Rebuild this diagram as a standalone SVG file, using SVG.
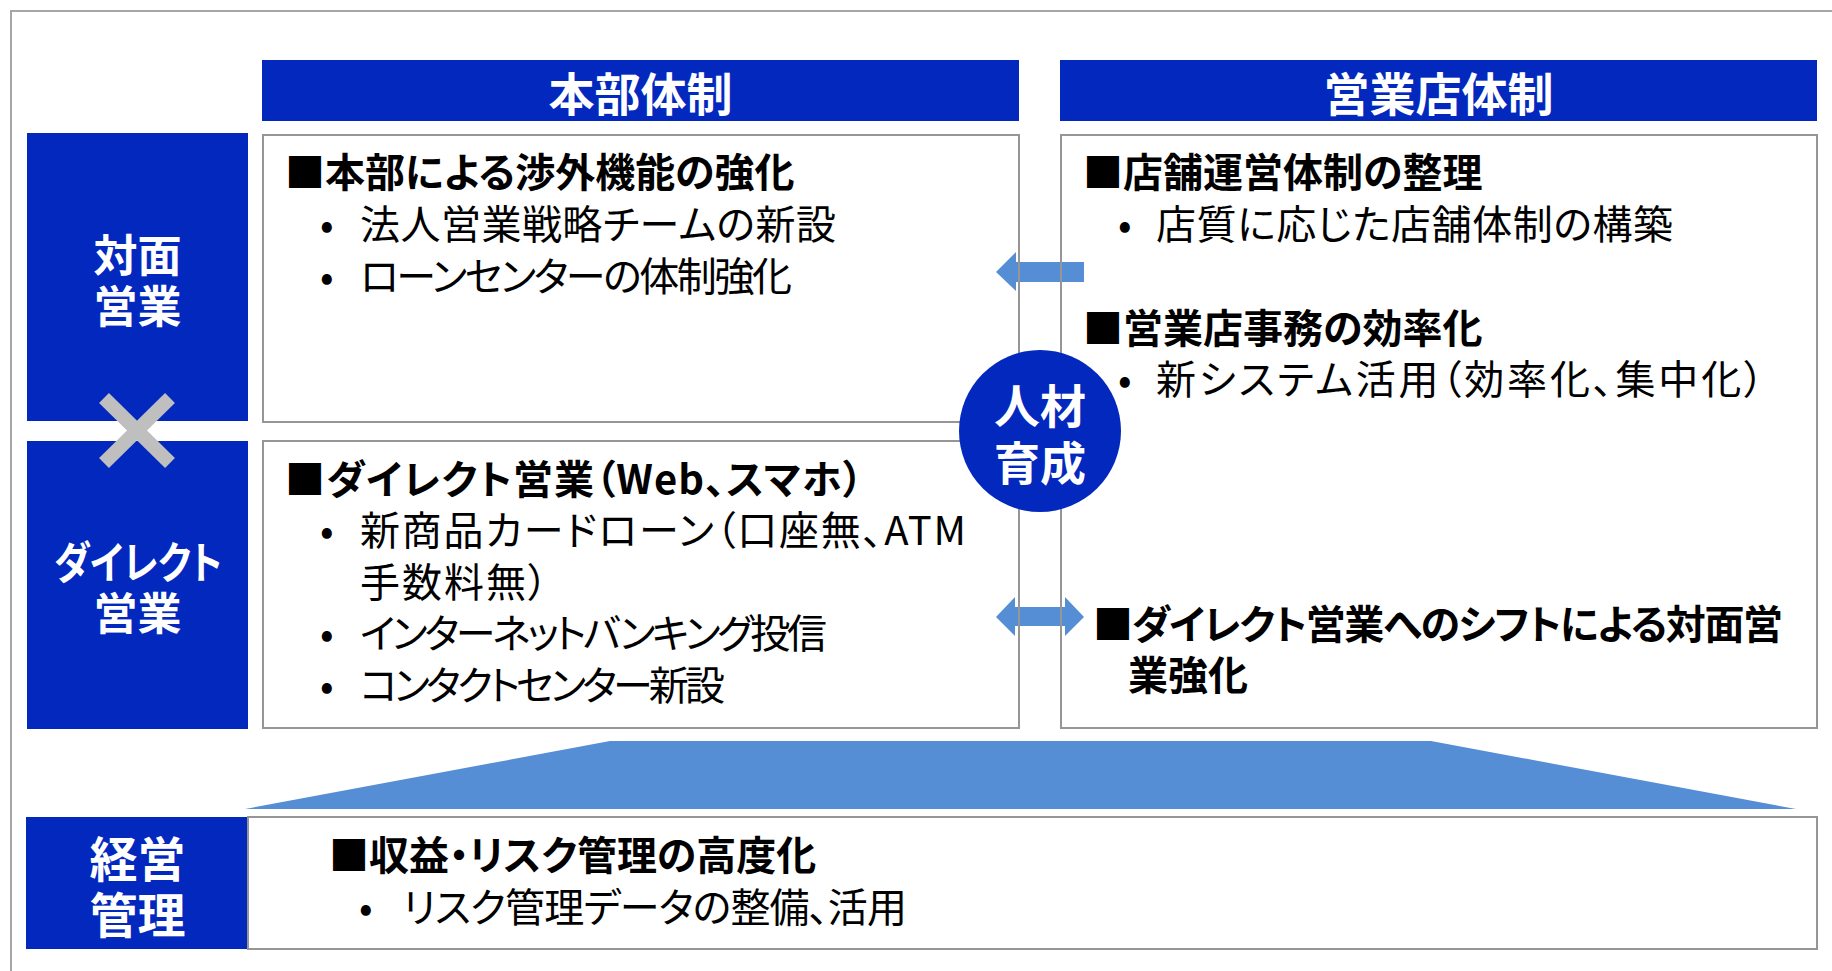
<svg xmlns="http://www.w3.org/2000/svg" width="1832" height="971" viewBox="0 0 1832 971">
<style>
text{font-family:"Noto Sans CJK JP","Noto Sans",sans-serif;dominant-baseline:central;font-feature-settings:"palt"}
.hd{font-size:46px;font-weight:700;fill:#fff;text-anchor:middle}
.lb{font-size:44px;font-weight:700;fill:#fff;text-anchor:middle}
.h{font-size:40px;font-weight:700;fill:#000}
.b{font-size:40px;font-weight:400;fill:#000}
.blue{fill:#0328BE}
.box{fill:none;stroke:#969696;stroke-width:2}
.arr{fill:#558ED5}
</style>
<rect x="11" y="11" width="1840" height="980" fill="#fff" stroke="#A6A6A6" stroke-width="2"/>

<g id="connectors">
<polygon class="arr" points="996,272 1016,252 1016,262 1084,262 1084,282 1016,282 1016,291"/>
<polygon class="arr" points="996,617 1015,597 1015,607 1065,607 1065,597 1084,617 1065,636 1065,626 1015,626 1015,636"/>
</g>

<g id="header-honbu">
<rect class="blue" x="262" y="60" width="757" height="61"/>
<text class="hd" x="640.5" y="91">本部体制</text>
</g>
<g id="header-eigyoten">
<rect class="blue" x="1060" y="60" width="757" height="61"/>
<text class="hd" x="1438.5" y="91">営業店体制</text>
</g>

<g id="label-taimen">
<rect class="blue" x="27" y="133" width="221" height="288"/>
<text class="lb"><tspan x="137.5" y="253">対面</tspan><tspan x="137.5" y="304">営業</tspan></text>
</g>
<g id="label-direct">
<rect class="blue" x="27" y="441" width="221" height="288"/>
<text class="lb"><tspan x="138" y="560" textLength="168" lengthAdjust="spacingAndGlyphs">ダイレクト</tspan><tspan x="137.5" y="611">営業</tspan></text>
</g>
<g id="cross">
<line x1="104" y1="398" x2="170" y2="463" stroke="#BFBFBF" stroke-width="14"/>
<line x1="170" y1="398" x2="104" y2="463" stroke="#BFBFBF" stroke-width="14"/>
</g>

<g id="box-honbu-taimen">
<rect class="box" x="263" y="135" width="756" height="287"/>
<text class="b"><tspan class="h" x="285" y="170">■本部による渉外機能の強化</tspan><tspan x="320" y="222">•</tspan><tspan x="360" y="222" textLength="476">法人営業戦略チームの新設</tspan><tspan x="320" y="274">•</tspan><tspan x="360" y="274" textLength="432">ローンセンターの体制強化</tspan></text>
</g>

<g id="box-honbu-direct">
<rect class="box" x="263" y="441" width="756" height="287"/>
<text class="b"><tspan class="h" x="285" y="477" textLength="578">■ダイレクト営業（Web、スマホ）</tspan><tspan x="320" y="528">•</tspan><tspan x="360" y="528" textLength="606">新商品カードローン（口座無、ATM</tspan><tspan x="360" y="580" textLength="188">手数料無）</tspan><tspan x="320" y="631">•</tspan><tspan x="360" y="631" textLength="467">インターネットバンキング投信</tspan><tspan x="320" y="683">•</tspan><tspan x="360" y="683" textLength="365">コンタクトセンター新設</tspan></text>
</g>

<g id="box-eigyoten">
<rect class="box" x="1061" y="135" width="756" height="593"/>
<text class="b"><tspan class="h" x="1083" y="170">■店舗運営体制の整理</tspan><tspan x="1118" y="222">•</tspan><tspan x="1156" y="222" textLength="517">店質に応じた店舗体制の構築</tspan><tspan class="h" x="1083" y="326">■営業店事務の効率化</tspan><tspan x="1118" y="377">•</tspan><tspan x="1156" y="377" textLength="608">新システム活用（効率化、集中化）</tspan><tspan class="h" x="1093" y="622" textLength="690">■ダイレクト営業へのシフトによる対面営</tspan><tspan class="h" x="1128" y="673">業強化</tspan></text>
</g>

<g id="circle-jinzai">
<circle class="blue" cx="1040" cy="431" r="81"/>
<text class="hd"><tspan x="1040" y="403">人材</tspan><tspan x="1040" y="460">育成</tspan></text>
</g>

<g id="base-arrow">
<polygon class="arr" points="610,741 1431,741 1796,809 245,809"/>
</g>

<g id="label-keiei">
<rect class="blue" x="26" y="817" width="222" height="132"/>
<text class="lb" style="font-size:48px"><tspan x="137.5" y="856">経営</tspan><tspan x="137.5" y="912">管理</tspan></text>
</g>
<g id="box-keiei">
<rect class="box" x="248" y="817" width="1569" height="132"/>
<text class="b"><tspan class="h" x="329" y="853">■収益・リスク管理の高度化</tspan><tspan x="359" y="905">•</tspan><tspan x="403" y="905" textLength="504">リスク管理データの整備、活用</tspan></text>
</g>
</svg>
